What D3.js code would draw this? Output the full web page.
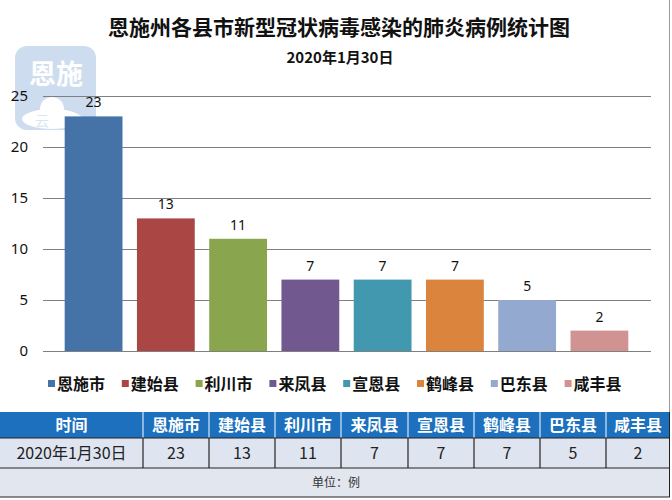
<!DOCTYPE html>
<html>
<head>
<meta charset="utf-8">
<script src="https://cdn.jsdelivr.net/npm/d3@7"></script>
<style>
  body { margin: 0; background: #fff; }
  svg { display: block; font-family: "Noto Sans", "Noto Sans CJK SC", sans-serif; }
</style>
</head>
<body>
<svg id="chart" width="672" height="500"></svg>
<script>
// chart data
const counties = ['恩施市', '建始县', '利川市', '来凤县', '宣恩县', '鹤峰县', '巴东县', '咸丰县'];
const cases = [23, 13, 11, 7, 7, 7, 5, 2];
const barColors = ['#4572a7', '#aa4643', '#89a54e', '#71588f', '#4198af', '#db843d', '#93a9cf', '#d19392'];
const yTicks = [0, 5, 10, 15, 20, 25];
const dateLabel = '2020年1月30日';

const svg = d3.select('#chart');

// title
svg.append('text')
    .attr('x', 339).attr('y', 35)
    .attr('text-anchor', 'middle')
    .attr('font-size', 21).attr('font-weight', 'bold')
    .attr('font-family', '"Noto Sans CJK SC", sans-serif')
    .attr('fill', '#111')
    .text('恩施州各县市新型冠状病毒感染的肺炎病例统计图');

svg.append('text')
    .attr('x', 340).attr('y', 63)
    .attr('text-anchor', 'middle')
    .attr('font-size', 15).attr('font-weight', 'bold')
    .attr('font-family', '"Noto Sans CJK SC", sans-serif')
    .attr('fill', '#111')
    .text(dateLabel);

// faint logo watermark (sits behind the plot)
const logo = svg.append('g').attr('opacity', 0.5);
logo.append('rect')
    .attr('x', 15).attr('y', 46).attr('width', 81).attr('height', 84).attr('rx', 12)
    .attr('fill', '#9dbbe0');
logo.append('text')
    .attr('x', 56).attr('y', 84)
    .attr('text-anchor', 'middle')
    .attr('font-size', 27).attr('font-weight', 'bold')
    .attr('font-family', '"Noto Sans CJK SC", sans-serif')
    .attr('fill', '#fff')
    .text('恩施');
logo.append('ellipse').attr('cx', 52).attr('cy', 119).attr('rx', 30).attr('ry', 10).attr('fill', '#fff');
logo.append('circle').attr('cx', 52).attr('cy', 109).attr('r', 12).attr('fill', '#fff');
logo.append('text')
    .attr('x', 42).attr('y', 126)
    .attr('text-anchor', 'middle')
    .attr('font-size', 14)
    .attr('font-family', '"Noto Sans CJK SC", sans-serif')
    .attr('fill', '#b5cbe6')
    .text('云');

// scales
const x = d3.scaleBand()
    .domain(counties)
    .range([43, 650])
    .paddingInner(0.2)
    .paddingOuter(0.3);

const y = d3.scaleLinear()
    .domain([0, 25])
    .range([351, 96]);

// gridlines
svg.append('g')
    .selectAll('line')
    .data(yTicks)
    .join('line')
    .attr('x1', 43).attr('x2', 651)
    .attr('y1', d => y(d) + 0.5).attr('y2', d => y(d) + 0.5)
    .attr('stroke', '#808080').attr('stroke-width', 1);

// y axis labels
svg.append('g')
    .selectAll('text')
    .data(yTicks)
    .join('text')
    .attr('x', 28)
    .attr('y', d => y(d) + 5)
    .attr('text-anchor', 'end')
    .attr('font-size', 15)
    .attr('fill', '#111')
    .text(d => d);

// bars
svg.append('g')
    .selectAll('rect')
    .data(cases)
    .join('rect')
    .attr('x', (d, i) => x(counties[i]))
    .attr('y', d => y(d))
    .attr('width', x.bandwidth())
    .attr('height', d => y(0) - y(d))
    .attr('fill', (d, i) => barColors[i]);

// value labels
svg.append('g')
    .selectAll('text')
    .data(cases)
    .join('text')
    .attr('x', (d, i) => x(counties[i]) + x.bandwidth() / 2)
    .attr('y', d => y(d) - 9)
    .attr('text-anchor', 'middle')
    .attr('font-size', 14)
    .attr('fill', '#111')
    .text(d => d);

// legend
const legend = svg.append('g')
    .selectAll('g')
    .data(counties)
    .join('g')
    .attr('transform', (d, i) => `translate(${48 + i * 73.8}, 384)`);

legend.append('rect')
    .attr('x', 0).attr('y', -4).attr('width', 7).attr('height', 7)
    .attr('fill', (d, i) => barColors[i]);

legend.append('text')
    .attr('x', 9).attr('y', 6)
    .attr('font-size', 16).attr('font-weight', 'bold')
    .attr('font-family', '"Noto Sans CJK SC", sans-serif')
    .attr('fill', '#111')
    .text(d => d);

// right border of chart area
svg.append('line')
    .attr('x1', 669.5).attr('x2', 669.5).attr('y1', 0).attr('y2', 412)
    .attr('stroke', '#9a9a9a');

// table
const colEdges = [0, 143, 209, 275, 341, 408, 474, 540, 606, 670];
const headerTexts = ['时间'].concat(counties);
const rowTexts = [dateLabel].concat(cases.map(String));

const table = svg.append('g');

table.append('rect')
    .attr('x', 0).attr('y', 412).attr('width', 670).attr('height', 26)
    .attr('fill', '#1c70bd');
table.append('rect')
    .attr('x', 0).attr('y', 438).attr('width', 670).attr('height', 30)
    .attr('fill', '#dfe5f0');
table.append('rect')
    .attr('x', 0).attr('y', 468).attr('width', 670).attr('height', 29)
    .attr('fill', '#e2e6ee');

// header dividers
table.append('g')
    .selectAll('line')
    .data(colEdges.slice(1, -1))
    .join('line')
    .attr('x1', d => d).attr('x2', d => d)
    .attr('y1', 412).attr('y2', 438)
    .attr('stroke', '#d8e6f4').attr('stroke-width', 1.2);

// data row dividers
table.append('g')
    .selectAll('line')
    .data(colEdges.slice(1, -1))
    .join('line')
    .attr('x1', d => d).attr('x2', d => d)
    .attr('y1', 438).attr('y2', 468)
    .attr('stroke', '#222').attr('stroke-width', 1.2);

// horizontal borders
table.append('g')
    .selectAll('line')
    .data([438, 468, 497])
    .join('line')
    .attr('x1', 0).attr('x2', 670)
    .attr('y1', d => d).attr('y2', d => d)
    .attr('stroke', '#222').attr('stroke-width', 1.2);

table.append('line')
    .attr('x1', 669.5).attr('x2', 669.5).attr('y1', 412).attr('y2', 497)
    .attr('stroke', '#222');

table.append('g')
    .selectAll('text')
    .data(headerTexts)
    .join('text')
    .attr('x', (d, i) => (colEdges[i] + colEdges[i + 1]) / 2)
    .attr('y', 431)
    .attr('text-anchor', 'middle')
    .attr('font-size', 16).attr('font-weight', 'bold')
    .attr('font-family', '"Noto Sans CJK SC", sans-serif')
    .attr('fill', '#fff')
    .text(d => d);

table.append('g')
    .selectAll('text')
    .data(rowTexts)
    .join('text')
    .attr('x', (d, i) => (colEdges[i] + colEdges[i + 1]) / 2)
    .attr('y', 459)
    .attr('text-anchor', 'middle')
    .attr('font-size', 16)
    .attr('font-family', '"Noto Sans CJK SC", sans-serif')
    .attr('fill', '#222')
    .text(d => d);

table.append('text')
    .attr('x', 336).attr('y', 487)
    .attr('text-anchor', 'middle')
    .attr('font-size', 12)
    .attr('font-family', '"Noto Sans CJK SC", sans-serif')
    .attr('fill', '#333')
    .text('单位：例');
</script>
</body>
</html>
